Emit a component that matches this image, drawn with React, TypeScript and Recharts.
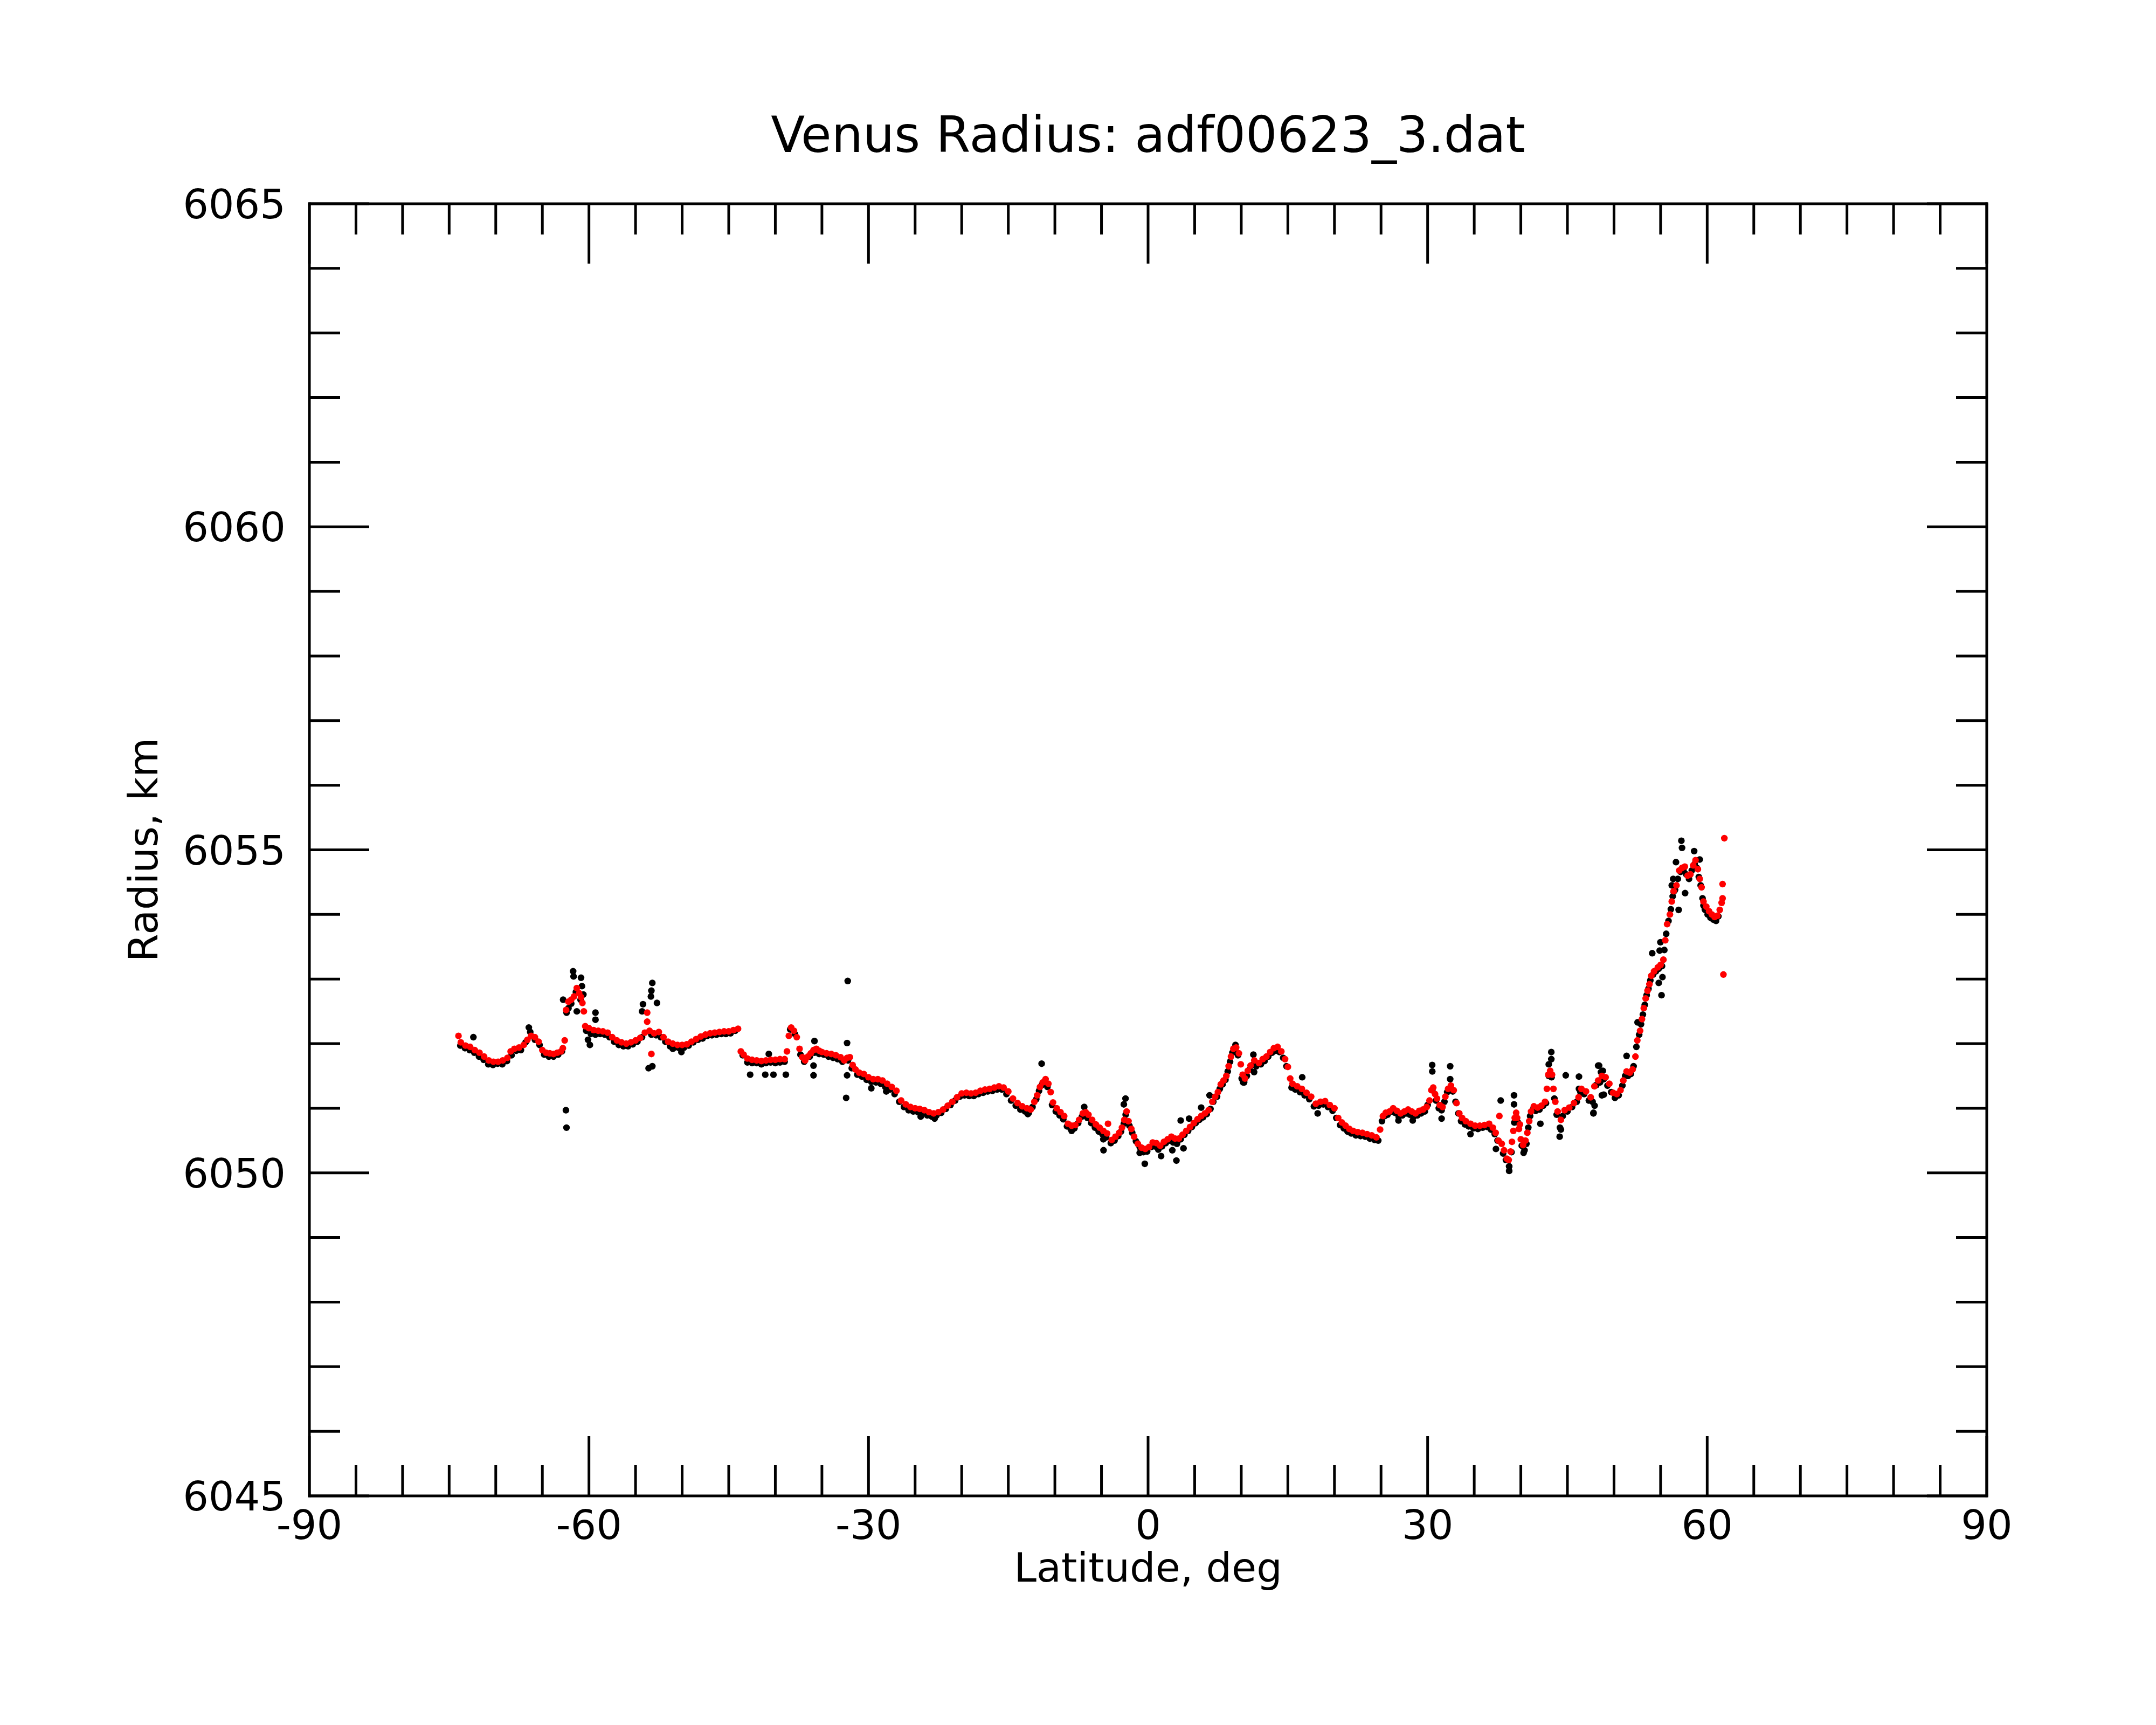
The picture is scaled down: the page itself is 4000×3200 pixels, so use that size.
import React from 'react';
import { ScatterChart, Scatter, XAxis, YAxis } from 'recharts';

const FONT = '"DejaVu Sans", Verdana, sans-serif';

const latTicks = [-90, -85, -80, -75, -70, -65, -60, -55, -50, -45, -40, -35, -30, -25, -20, -15, -10, -5, 0, 5, 10, 15, 20, 25, 30, 35, 40, 45, 50, 55, 60, 65, 70, 75, 80, 85, 90];
const radiusTicks = [6045, 6046, 6047, 6048, 6049, 6050, 6051, 6052, 6053, 6054, 6055, 6056, 6057, 6058, 6059, 6060, 6061, 6062, 6063, 6064, 6065];

const titleText = 'Venus Radius: adf00623_3.dat';
const xLabelText = 'Latitude, deg';
const yLabelText = 'Radius, km';

// smoothed profile (red): [latitude, radius]
const redTrack: [number, number][] = [
  [-74.0, 6052.12], [-73.75, 6052.02], [-73.25, 6051.97], [-72.75, 6051.95], [-72.25, 6051.9], [-71.75, 6051.86], [-71.25, 6051.8], [-70.75, 6051.74], [-70.25, 6051.72], [-69.75, 6051.72], [-69.25, 6051.74], [-68.75, 6051.78], [-68.4, 6051.88], [-68.0, 6051.92], [-67.5, 6051.94], [-67.0, 6051.98], [-66.6, 6052.06], [-66.2, 6052.12], [-65.8, 6052.1], [-65.4, 6052.03], [-65.0, 6051.9], [-64.6, 6051.86], [-64.2, 6051.85], [-63.8, 6051.84], [-63.4, 6051.86], [-63.0, 6051.88], [-62.8, 6051.93],
  [-62.45, 6052.52], [-62.2, 6052.65], [-61.9, 6052.68], [-61.6, 6052.73], [-61.3, 6052.86], [-61.05, 6052.78], [-60.85, 6052.72], [-60.7, 6052.63], [-60.55, 6052.5],
  [-60.4, 6052.27], [-60.0, 6052.24], [-59.5, 6052.21], [-59.0, 6052.2], [-58.5, 6052.19], [-58.0, 6052.17], [-57.5, 6052.1], [-57.0, 6052.05], [-56.5, 6052.02], [-56.0, 6052.0], [-55.5, 6052.02], [-55.0, 6052.05], [-54.5, 6052.09], [-54.0, 6052.17], [-53.5, 6052.2], [-53.0, 6052.16], [-52.5, 6052.18], [-52.0, 6052.1], [-51.5, 6052.03], [-51.0, 6052.0], [-50.5, 6051.98], [-50.0, 6051.98], [-49.5, 6051.99], [-49.0, 6052.03], [-48.5, 6052.07], [-48.0, 6052.11], [-47.5, 6052.14], [-47.0, 6052.16], [-46.5, 6052.17], [-46.0, 6052.18], [-45.5, 6052.19], [-45.0, 6052.19], [-44.5, 6052.21], [-44.0, 6052.23],
  [-43.7, 6051.88], [-43.4, 6051.83], [-43.0, 6051.77], [-42.5, 6051.75], [-42.0, 6051.74], [-41.5, 6051.73], [-41.0, 6051.74], [-40.5, 6051.75], [-40.0, 6051.75], [-39.5, 6051.76], [-39.0, 6051.76], [-38.75, 6051.88], [-38.55, 6052.12], [-38.3, 6052.25], [-38.0, 6052.2], [-37.7, 6052.1], [-37.4, 6051.92], [-37.1, 6051.79], [-36.8, 6051.74], [-36.5, 6051.8], [-36.2, 6051.85], [-35.9, 6051.9], [-35.6, 6051.92], [-35.3, 6051.89], [-35.0, 6051.87], [-34.5, 6051.85], [-34.0, 6051.84], [-33.5, 6051.82], [-33.0, 6051.79], [-32.6, 6051.74], [-32.3, 6051.78], [-32.0, 6051.79], [-31.7, 6051.67], [-31.4, 6051.6], [-31.0, 6051.55], [-30.5, 6051.53], [-30.0, 6051.48], [-29.5, 6051.45], [-29.0, 6051.45], [-28.5, 6051.43], [-28.0, 6051.38], [-27.5, 6051.33], [-27.0, 6051.27], [-26.5, 6051.12], [-26.0, 6051.06], [-25.5, 6051.02], [-25.0, 6051.0], [-24.5, 6050.99], [-24.0, 6050.97], [-23.5, 6050.94], [-23.0, 6050.92], [-22.5, 6050.94], [-22.0, 6050.98], [-21.5, 6051.04], [-21.0, 6051.1], [-20.5, 6051.17], [-20.0, 6051.23], [-19.5, 6051.24], [-19.0, 6051.23], [-18.5, 6051.24], [-18.0, 6051.27], [-17.5, 6051.29], [-17.0, 6051.3], [-16.5, 6051.32], [-16.0, 6051.34], [-15.5, 6051.32], [-15.0, 6051.26], [-14.5, 6051.15], [-14.0, 6051.08], [-13.5, 6051.03], [-13.0, 6051.0], [-12.6, 6050.98], [-12.2, 6051.1], [-11.9, 6051.2], [-11.6, 6051.33], [-11.3, 6051.4], [-11.0, 6051.45], [-10.7, 6051.38], [-10.45, 6051.25], [-10.2, 6051.09], [-9.8, 6051.0], [-9.4, 6050.94], [-9.0, 6050.88], [-8.6, 6050.76], [-8.2, 6050.73], [-7.8, 6050.74], [-7.4, 6050.82], [-7.0, 6050.92], [-6.7, 6050.94], [-6.4, 6050.9], [-6.0, 6050.82], [-5.6, 6050.75], [-5.2, 6050.7], [-4.8, 6050.65], [-4.4, 6050.61], [-3.9, 6050.51], [-3.5, 6050.56], [-3.1, 6050.62], [-2.8, 6050.7], [-2.55, 6050.82], [-2.3, 6050.95], [-2.1, 6050.8], [-1.8, 6050.68], [-1.5, 6050.56], [-1.1, 6050.45], [-0.7, 6050.39], [-0.3, 6050.37], [0.1, 6050.4], [0.5, 6050.47], [0.9, 6050.46], [1.3, 6050.42], [1.7, 6050.48], [2.1, 6050.52], [2.5, 6050.56], [2.9, 6050.53], [3.3, 6050.53], [3.7, 6050.59], [4.1, 6050.65], [4.5, 6050.71], [4.9, 6050.77], [5.3, 6050.83], [5.7, 6050.88], [6.1, 6050.92], [6.5, 6050.97], [6.9, 6051.1], [7.2, 6051.18], [7.5, 6051.25], [7.8, 6051.37], [8.1, 6051.43], [8.4, 6051.5], [8.65, 6051.65], [8.9, 6051.8], [9.15, 6051.92], [9.45, 6051.94], [9.75, 6051.85], [9.95, 6051.68], [10.15, 6051.52], [10.4, 6051.46], [10.7, 6051.58], [11.0, 6051.66], [11.4, 6051.74], [11.9, 6051.7], [12.3, 6051.76], [12.7, 6051.8], [13.1, 6051.87], [13.5, 6051.93], [13.9, 6051.95], [14.3, 6051.88], [14.7, 6051.76], [15.0, 6051.64], [15.25, 6051.46], [15.5, 6051.38], [16.0, 6051.34], [16.5, 6051.3], [17.0, 6051.24], [17.5, 6051.18], [18.0, 6051.07], [18.5, 6051.1], [19.0, 6051.11], [19.5, 6051.05], [20.0, 6051.0], [20.4, 6050.85], [20.8, 6050.78], [21.2, 6050.73], [21.6, 6050.68], [22.0, 6050.65], [22.5, 6050.63], [23.0, 6050.62], [23.5, 6050.6], [24.0, 6050.58], [24.5, 6050.55], [24.9, 6050.67], [25.2, 6050.88], [25.5, 6050.93], [25.9, 6050.95], [26.3, 6051.0], [26.7, 6050.96], [27.1, 6050.92], [27.5, 6050.95], [27.9, 6050.98], [28.3, 6050.95], [28.7, 6050.92], [29.1, 6050.96], [29.5, 6050.98], [29.9, 6051.02], [30.2, 6051.12], [30.4, 6051.28], [30.6, 6051.32], [30.8, 6051.22], [31.0, 6051.15], [31.3, 6051.05], [31.6, 6051.02], [31.9, 6051.18], [32.2, 6051.3], [32.5, 6051.35], [32.8, 6051.28], [33.1, 6051.08], [33.4, 6050.92], [33.7, 6050.85], [34.1, 6050.8], [34.6, 6050.76], [35.1, 6050.73], [35.6, 6050.73], [36.1, 6050.74], [36.6, 6050.76], [37.0, 6050.7], [37.3, 6050.62], [37.6, 6050.5], [37.95, 6050.45], [38.2, 6050.35], [38.5, 6050.22], [38.7, 6050.2], [38.9, 6050.33], [39.05, 6050.48], [39.2, 6050.65], [39.35, 6050.85], [39.5, 6050.93], [39.6, 6050.85], [39.8, 6050.68], [40.0, 6050.52], [40.25, 6050.43], [40.5, 6050.5], [40.7, 6050.62], [40.9, 6050.8], [41.1, 6050.95], [41.4, 6051.03], [41.8, 6051.01], [42.2, 6051.04], [42.6, 6051.1], [42.8, 6051.3], [42.95, 6051.52], [43.15, 6051.58], [43.35, 6051.52], [43.5, 6051.3], [43.7, 6051.1], [43.95, 6050.95], [44.3, 6050.82], [44.7, 6050.97], [45.2, 6051.01], [45.7, 6051.08], [46.2, 6051.17], [46.5, 6051.3], [47.0, 6051.26], [47.5, 6051.17], [47.9, 6051.34], [48.3, 6051.43], [48.7, 6051.5], [49.1, 6051.48], [49.5, 6051.38], [49.9, 6051.24], [50.3, 6051.22], [50.7, 6051.28], [51.0, 6051.43], [51.35, 6051.57], [51.7, 6051.55], [52.0, 6051.6], [52.3, 6051.8], [52.5, 6052.05], [52.8, 6052.2], [53.0, 6052.38], [53.2, 6052.55], [53.4, 6052.7], [53.6, 6052.82], [53.8, 6052.92], [54.0, 6053.05], [54.3, 6053.12], [54.7, 6053.18], [55.0, 6053.22], [55.3, 6053.3], [55.5, 6053.6], [55.7, 6053.85], [56.0, 6054.0], [56.2, 6054.2], [56.4, 6054.36], [56.7, 6054.45], [57.0, 6054.68], [57.3, 6054.72], [57.6, 6054.74], [57.9, 6054.6], [58.2, 6054.62], [58.5, 6054.76], [58.75, 6054.84], [59.0, 6054.7], [59.2, 6054.55], [59.4, 6054.42], [59.6, 6054.2], [59.9, 6054.12], [60.2, 6054.05], [60.5, 6054.0], [60.8, 6053.96], [61.1, 6053.98], [61.35, 6054.07], [61.55, 6054.18], [61.65, 6054.25],
];

const redOutliers: [number, number][] = [
  [-62.6, 6052.05], [-53.75, 6052.48], [-53.75, 6052.34], [-53.3, 6051.84], [-4.3, 6050.76], [37.7, 6050.88], [39.9, 6050.75], [61.65, 6054.47], [61.84, 6055.18], [61.74, 6053.07],
];

// raw measurements (black): [latitude, radius]
const blackTrack: [number, number][] = [
  [-73.8, 6051.97], [-73.3, 6051.93], [-72.8, 6051.9], [-72.3, 6051.86], [-71.8, 6051.8], [-71.3, 6051.75], [-70.8, 6051.68], [-70.3, 6051.67], [-69.8, 6051.69], [-69.3, 6051.68], [-68.8, 6051.73], [-68.3, 6051.82], [-67.8, 6051.89], [-67.3, 6051.9], [-66.8, 6052.02], [-66.3, 6052.18], [-65.8, 6052.06], [-65.3, 6051.98], [-64.8, 6051.83], [-64.3, 6051.8], [-63.8, 6051.8], [-63.3, 6051.83], [-62.9, 6051.88],
  [-62.4, 6052.48], [-61.9, 6052.62], [-61.4, 6052.8], [-60.9, 6052.68], [-60.3, 6052.2], [-59.8, 6052.15], [-59.3, 6052.14], [-58.8, 6052.15], [-58.3, 6052.14], [-57.8, 6052.1], [-57.3, 6052.03], [-56.8, 6051.98], [-56.3, 6051.96], [-55.8, 6051.96], [-55.3, 6051.99], [-54.8, 6052.03], [-54.3, 6052.1], [-53.3, 6052.14], [-52.8, 6052.13], [-52.3, 6052.1], [-51.8, 6052.03], [-51.3, 6051.96], [-50.8, 6051.94], [-50.3, 6051.93], [-49.8, 6051.94], [-49.3, 6051.97], [-48.8, 6052.02], [-48.3, 6052.06], [-47.8, 6052.08], [-47.3, 6052.12], [-46.8, 6052.13], [-46.3, 6052.14], [-45.8, 6052.15], [-45.3, 6052.15], [-44.8, 6052.16], [-44.3, 6052.2],
  [-43.5, 6051.82], [-43.0, 6051.71], [-42.5, 6051.7], [-42.0, 6051.7], [-41.5, 6051.68], [-41.0, 6051.7], [-40.5, 6051.71], [-40.0, 6051.7], [-39.5, 6051.71], [-39.0, 6051.72], [-38.4, 6052.22], [-37.9, 6052.15], [-37.3, 6051.83], [-36.9, 6051.72], [-36.3, 6051.8], [-35.8, 6051.86], [-35.3, 6051.84], [-34.8, 6051.83], [-34.3, 6051.8], [-33.8, 6051.78], [-33.3, 6051.76], [-32.8, 6051.72], [-32.2, 6051.74], [-31.8, 6051.62], [-31.2, 6051.52], [-30.7, 6051.49], [-30.2, 6051.44], [-29.7, 6051.41], [-29.2, 6051.4], [-28.7, 6051.38], [-28.2, 6051.33], [-27.7, 6051.29], [-27.2, 6051.22], [-26.7, 6051.1], [-26.2, 6051.02], [-25.7, 6050.97], [-25.2, 6050.95], [-24.7, 6050.94], [-24.2, 6050.92], [-23.7, 6050.89], [-23.2, 6050.87], [-22.7, 6050.89], [-22.2, 6050.93], [-21.7, 6050.99], [-21.2, 6051.05], [-20.7, 6051.12], [-20.2, 6051.18], [-19.7, 6051.2], [-19.2, 6051.19], [-18.7, 6051.19], [-18.2, 6051.22], [-17.7, 6051.24], [-17.2, 6051.26], [-16.7, 6051.27], [-16.2, 6051.29], [-15.7, 6051.29], [-15.2, 6051.22], [-14.7, 6051.12], [-14.2, 6051.04], [-13.7, 6050.98], [-13.2, 6050.95], [-12.8, 6050.93], [-12.4, 6051.02], [-12.0, 6051.14], [-11.7, 6051.27], [-11.4, 6051.36], [-11.1, 6051.4], [-10.8, 6051.33], [-10.3, 6051.05], [-9.9, 6050.95], [-9.5, 6050.89], [-9.1, 6050.83], [-8.7, 6050.72], [-8.3, 6050.68], [-7.9, 6050.69], [-7.5, 6050.77], [-7.1, 6050.87], [-6.8, 6050.9], [-6.5, 6050.85], [-6.1, 6050.77], [-5.7, 6050.7], [-5.3, 6050.64], [-4.9, 6050.6], [-4.5, 6050.55], [-4.0, 6050.46], [-3.6, 6050.5], [-3.2, 6050.57], [-2.9, 6050.64], [-2.6, 6050.76], [-2.4, 6050.9], [-2.0, 6050.73], [-1.7, 6050.62], [-1.3, 6050.49], [-0.9, 6050.4], [-0.5, 6050.32], [-0.1, 6050.33], [0.3, 6050.4], [0.7, 6050.41], [1.1, 6050.36], [1.5, 6050.41], [1.9, 6050.46], [2.3, 6050.5], [2.7, 6050.47], [3.1, 6050.45], [3.5, 6050.52], [3.9, 6050.59], [4.3, 6050.65], [4.7, 6050.71], [5.1, 6050.77], [5.5, 6050.82], [5.9, 6050.86], [6.3, 6050.91], [6.7, 6050.99], [7.0, 6051.1], [7.4, 6051.18], [7.7, 6051.3], [8.0, 6051.37], [8.3, 6051.44], [8.55, 6051.57], [8.8, 6051.72], [9.05, 6051.86], [9.35, 6051.89], [9.65, 6051.82], [10.05, 6051.46], [10.3, 6051.4], [10.6, 6051.5], [10.9, 6051.6], [11.2, 6051.67], [11.6, 6051.65], [12.1, 6051.68], [12.5, 6051.73], [12.9, 6051.8], [13.3, 6051.86], [13.7, 6051.89], [14.1, 6051.87], [14.5, 6051.78], [14.85, 6051.65], [15.4, 6051.32], [15.8, 6051.29], [16.3, 6051.25], [16.8, 6051.2], [17.3, 6051.14], [17.8, 6051.03], [18.3, 6051.04], [18.8, 6051.06], [19.3, 6051.02], [19.8, 6050.96], [20.2, 6050.85], [20.6, 6050.74], [21.0, 6050.69], [21.4, 6050.64], [21.8, 6050.61], [22.3, 6050.58], [22.8, 6050.57], [23.3, 6050.56], [23.8, 6050.53], [24.3, 6050.51], [24.7, 6050.5], [25.1, 6050.8], [25.4, 6050.88], [25.7, 6050.9], [26.1, 6050.95], [26.5, 6050.93], [26.9, 6050.87], [27.3, 6050.89], [27.7, 6050.92], [28.1, 6050.9], [28.5, 6050.87], [28.9, 6050.89], [29.3, 6050.92], [29.7, 6050.95], [30.0, 6051.05], [30.5, 6051.28], [30.9, 6051.12], [31.2, 6051.0], [31.5, 6050.97], [31.8, 6051.1], [32.1, 6051.25], [32.4, 6051.3], [32.7, 6051.26], [33.0, 6051.1], [33.3, 6050.92], [33.6, 6050.8], [34.0, 6050.75], [34.4, 6050.72], [34.9, 6050.69], [35.4, 6050.68], [35.9, 6050.7], [36.4, 6050.71], [36.8, 6050.67], [37.2, 6050.6], [37.5, 6050.5], [38.1, 6050.3], [38.4, 6050.2], [38.75, 6050.1], [39.0, 6050.32], [39.3, 6050.78], [39.7, 6050.78], [40.1, 6050.42], [40.4, 6050.35], [40.6, 6050.45], [40.8, 6050.7], [41.0, 6050.88], [41.3, 6050.98], [41.6, 6050.96], [42.0, 6050.98], [42.4, 6051.04], [42.7, 6051.08], [43.0, 6051.5], [43.3, 6051.48], [43.6, 6051.15], [43.85, 6050.9], [44.2, 6050.7], [44.5, 6050.88], [45.0, 6050.95], [45.5, 6051.02], [46.0, 6051.1], [46.4, 6051.25], [46.8, 6051.22], [47.3, 6051.12], [47.7, 6051.1], [48.1, 6051.36], [48.5, 6051.4], [48.9, 6051.45], [49.3, 6051.35], [49.7, 6051.25], [50.1, 6051.16], [50.5, 6051.2], [50.9, 6051.35], [51.2, 6051.5], [51.5, 6051.5], [51.8, 6051.53], [52.1, 6051.65], [52.4, 6051.95], [52.7, 6052.14], [52.9, 6052.3], [53.1, 6052.45], [53.3, 6052.6], [53.5, 6052.75], [53.7, 6052.85], [53.9, 6052.98], [54.2, 6053.07], [54.5, 6053.12], [54.8, 6053.16], [55.15, 6053.2], [55.4, 6053.45], [55.6, 6053.7], [55.85, 6053.9], [56.1, 6054.08], [56.3, 6054.28], [56.55, 6054.38], [56.85, 6054.55], [57.15, 6054.66], [57.45, 6054.68], [57.75, 6054.62], [58.05, 6054.55], [58.35, 6054.68], [58.65, 6054.78], [58.9, 6054.72], [59.1, 6054.58], [59.3, 6054.45], [59.5, 6054.25], [59.75, 6054.08], [60.05, 6054.0], [60.35, 6053.95], [60.65, 6053.92], [60.95, 6053.9], [61.2, 6053.97],
];

const blackOutliers: [number, number][] = [
  [-72.4, 6052.1], [-66.45, 6052.25], [-61.7, 6053.12], [-61.65, 6053.04], [-60.85, 6053.02], [-60.75, 6052.89], [-60.6, 6052.76], [-62.77, 6052.68], [-62.2, 6052.55], [-61.3, 6052.5], [-62.47, 6050.97], [-62.41, 6050.7], [-59.3, 6052.48], [-59.3, 6052.37], [-60.1, 6052.06], [-59.9, 6051.98],
  [-53.2, 6052.94], [-53.3, 6052.82], [-53.35, 6052.73], [-54.2, 6052.61], [-54.3, 6052.5], [-52.7, 6052.63], [-53.6, 6051.62], [-53.2, 6051.65], [-50.08, 6051.87], [-51.0, 6051.92],
  [-42.7, 6051.52], [-41.08, 6051.52], [-40.2, 6051.52], [-38.87, 6051.52], [-40.7, 6051.84], [-35.8, 6052.04], [-35.9, 6051.51], [-35.9, 6051.66], [-32.23, 6052.97], [-32.3, 6052.01], [-32.4, 6051.16], [-32.3, 6051.51],
  [-29.7, 6051.31], [-28.1, 6051.26], [-24.4, 6050.87], [-22.9, 6050.84], [-12.9, 6050.91], [-11.42, 6051.69], [-8.2, 6050.65], [-6.85, 6051.02], [-4.78, 6050.35], [-4.8, 6050.52], [-2.42, 6051.15], [-2.6, 6051.06], [-0.9, 6050.31], [-0.35, 6050.14], [1.4, 6050.26], [3.04, 6050.19], [3.8, 6050.38], [2.6, 6050.35], [3.5, 6050.81], [4.4, 6050.84], [5.7, 6051.01], [6.6, 6051.2],
  [9.38, 6051.98], [11.3, 6051.83], [10.3, 6051.4], [11.38, 6051.56], [10.2, 6051.4], [16.54, 6051.48], [18.2, 6050.92], [26.87, 6050.81], [28.4, 6050.81], [30.49, 6051.67], [30.5, 6051.57], [32.42, 6051.65], [32.42, 6051.45], [31.5, 6050.84], [33.6, 6050.8], [34.6, 6050.6],
  [37.84, 6051.12], [37.33, 6050.37], [38.75, 6050.03], [38.75, 6050.1], [39.27, 6051.2], [39.27, 6051.06], [40.3, 6050.31], [42.1, 6050.76], [43.27, 6051.87], [43.27, 6051.76], [43.0, 6051.68], [44.17, 6050.56], [44.3, 6050.67], [44.82, 6051.51], [46.24, 6051.49], [46.24, 6051.3], [47.79, 6050.92], [48.3, 6051.66], [48.6, 6051.56], [48.7, 6051.2], [47.92, 6051.04], [47.8, 6050.93], [48.4, 6051.66], [48.8, 6051.58], [48.9, 6051.21],
  [51.35, 6051.81], [52.53, 6052.33], [54.1, 6053.4], [54.98, 6053.57], [54.9, 6053.44], [55.2, 6053.03], [54.8, 6052.94], [55.1, 6052.75], [56.65, 6054.81], [56.35, 6054.55], [56.2, 6054.45], [56.4, 6054.35], [57.23, 6055.14], [57.3, 6055.03], [58.6, 6054.98], [59.2, 6054.85], [57.63, 6054.33], [56.94, 6054.07], [59.78, 6054.07], [59.6, 6054.14],
];

const toPoints = (arr: [number, number][]) => arr.map(([lat, r]) => ({ lat, r }));
const blackData = toPoints([...blackTrack, ...blackOutliers]);
const redData = toPoints([...redTrack, ...redOutliers]);

const MAJOR_LEN = 111;
const MINOR_LEN = 57;
const STROKE = 5;
const AXIS_LINE = { stroke: '#000', strokeWidth: STROKE, strokeLinecap: 'square' as const };

const BottomTick = (p: any) => {
  const v = p.payload.value;
  const major = v % 30 === 0;
  return (
    <g>
      <line x1={p.x} y1={p.y} x2={p.x} y2={p.y - (major ? MAJOR_LEN : MINOR_LEN)} stroke="#000" strokeWidth={STROKE} />
      {major && (
        <text x={p.x} y={p.y + 80} textAnchor="middle" fontSize={75} fontFamily={FONT} fill="#000">{String(v)}</text>
      )}
    </g>
  );
};

const TopTick = (p: any) => {
  const v = p.payload.value;
  const major = v % 30 === 0;
  return <line x1={p.x} y1={p.y} x2={p.x} y2={p.y + (major ? MAJOR_LEN : MINOR_LEN)} stroke="#000" strokeWidth={STROKE} />;
};

const LeftTick = (p: any) => {
  const v = p.payload.value;
  const major = v % 5 === 0;
  return (
    <g>
      <line x1={p.x} y1={p.y} x2={p.x + (major ? MAJOR_LEN : MINOR_LEN)} y2={p.y} stroke="#000" strokeWidth={STROKE} />
      {major && (
        <text x={p.x - 44} y={p.y + 27} textAnchor="end" fontSize={75} fontFamily={FONT} fill="#000">{String(v)}</text>
      )}
    </g>
  );
};

const RightTick = (p: any) => {
  const v = p.payload.value;
  const major = v % 5 === 0;
  return <line x1={p.x} y1={p.y} x2={p.x - (major ? MAJOR_LEN : MINOR_LEN)} y2={p.y} stroke="#000" strokeWidth={STROKE} />;
};

const TitleLabel = (p: any) => {
  const vb = p.viewBox;
  return (
    <text x={vb.x + vb.width / 2} y={274} textAnchor="middle" fontSize={92} fontFamily={FONT} fill="#000">{titleText}</text>
  );
};

const XLabel = (p: any) => {
  const vb = p.viewBox;
  return (
    <text x={vb.x + vb.width / 2} y={vb.y + 159} textAnchor="middle" fontSize={75} fontFamily={FONT} fill="#000">{xLabelText}</text>
  );
};

const YLabel = (p: any) => {
  const vb = p.viewBox;
  const cx = 284;
  const cy = vb.y + vb.height / 2;
  return (
    <text x={cx} y={cy} transform={`rotate(-90 ${cx} ${cy})`} textAnchor="middle" fontSize={75} fontFamily={FONT} fill="#000">{yLabelText}</text>
  );
};

const RedDot = (p: any) => <circle cx={p.cx} cy={p.cy} r={6.2} fill="#ff0000" />;
const BlackDot = (p: any) => <circle cx={p.cx} cy={p.cy} r={6.2} fill="#000000" />;
const NoDot = () => <g />;

export default function App() {
  return (
    <div style={{ width: 3984, height: 3184, background: '#fff' }}>
      <ScatterChart width={3984} height={3184} margin={{ top: 0, right: 0, bottom: 0, left: 0 }}>
        <XAxis xAxisId="b" type="number" dataKey="lat" orientation="bottom" domain={[-90, 90]} allowDataOverflow ticks={latTicks} interval={0} height={417} tickSize={0} tickMargin={0} tickLine={false} axisLine={AXIS_LINE} tick={BottomTick} label={XLabel} />
        <XAxis xAxisId="t" type="number" dataKey="lat" orientation="top" domain={[-90, 90]} allowDataOverflow ticks={latTicks} interval={0} height={370} tickSize={0} tickMargin={0} tickLine={false} axisLine={AXIS_LINE} tick={TopTick} label={TitleLabel} />
        <YAxis yAxisId="l" type="number" dataKey="r" orientation="left" domain={[6045, 6065]} allowDataOverflow ticks={radiusTicks} interval={0} width={566} tickSize={0} tickMargin={0} tickLine={false} axisLine={AXIS_LINE} tick={LeftTick} label={YLabel} />
        <YAxis yAxisId="r" type="number" dataKey="r" orientation="right" domain={[6045, 6065]} allowDataOverflow ticks={radiusTicks} interval={0} width={306} tickSize={0} tickMargin={0} tickLine={false} axisLine={AXIS_LINE} tick={RightTick} />
        <Scatter xAxisId="t" yAxisId="r" data={redData} shape={NoDot} isAnimationActive={false} />
        <Scatter xAxisId="b" yAxisId="l" data={blackData} shape={BlackDot} isAnimationActive={false} />
        <Scatter xAxisId="b" yAxisId="l" data={redData} shape={RedDot} isAnimationActive={false} />
      </ScatterChart>
    </div>
  );
}
